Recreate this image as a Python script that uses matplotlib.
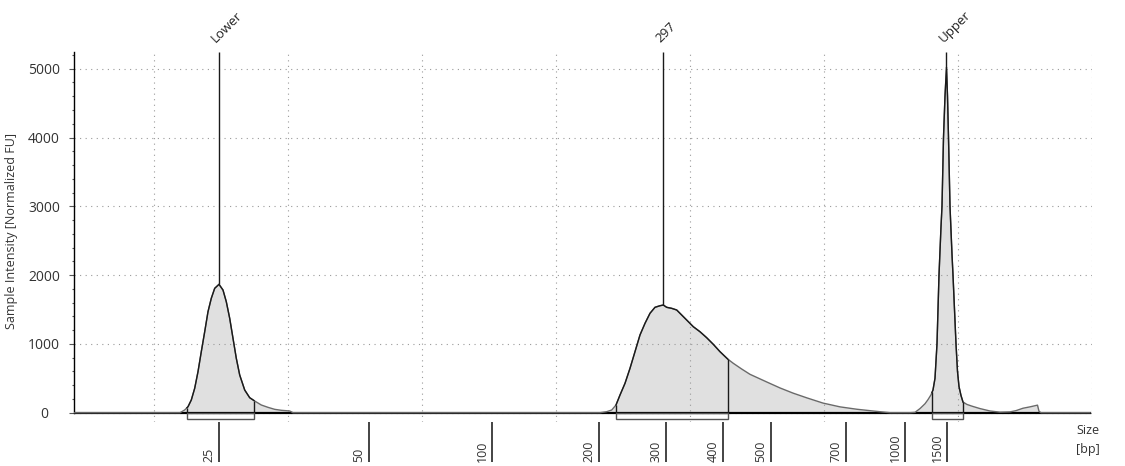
import numpy as np
import matplotlib.pyplot as plt
from matplotlib.patches import Rectangle
from matplotlib.ticker import MultipleLocator

plt.rcParams['font.family'] = ['Open Sans', 'DejaVu Sans']

# ------------------------------------------------------------
# electropherogram trace (migration position vs normalized FU)
# ------------------------------------------------------------
pos = [74, 180, 184.7, 188, 191.3, 194.7, 198, 201.3, 204.7, 208, 211.3, 214.7,
       219, 223, 226.3, 229.7, 233, 236.3, 239.7, 244.7, 249.7, 254.7, 261.3,
       268, 274.7, 281.3, 289.7, 293,
       600, 606.7, 611.7, 616, 620, 625, 630, 635, 640, 645, 650, 655, 660,
       663.3, 666.7, 671.7, 676.7, 681.7, 686.7, 693.3, 700, 706.7, 713.3, 720,
       727.7, 733.3, 741.7, 750, 767, 780, 793, 807, 823, 840, 857, 873, 883,
       890,
       910, 915, 920, 925, 928, 931, 933, 935, 937, 939, 941, 942, 943.5, 945,
       946.5, 947.5, 948.5, 950, 952, 953, 956, 957.5, 959, 961, 963, 967, 972,
       980, 990, 1000, 1010, 1016, 1023, 1030, 1036, 1037.5, 1039, 1041, 1090]
fu = [0, 0, 40, 87, 185, 355, 596, 887, 1177, 1468, 1663, 1808,
      1866, 1783, 1613, 1372, 1081, 791, 548, 330, 218, 170, 112,
      78, 49, 35, 25, 0,
      0, 15, 39, 112, 257, 427, 645, 887, 1130, 1299, 1445, 1532, 1555,
      1565, 1532, 1517, 1493, 1420, 1347, 1250, 1177, 1090, 994, 887,
      780, 718, 635, 558, 445, 360, 285, 215, 140, 85, 50, 25, 10,
      0,
      0, 5, 60, 130, 190, 260, 330, 500, 1000, 2000, 2700, 3000, 4000, 4600,
      5020, 4600, 4000, 3000, 2300, 2000, 1000, 600, 380, 250, 155, 120, 95,
      60, 25, 8, 12, 30, 65, 85, 105, 110, 20, 0, 0]

# peaks
peak_names = ['Lower', '297', 'Upper']
peak_pos = [219, 663.3, 946.5]

# integration regions
region_start = [187, 616, 932]
region_end = [254, 727.7, 963]

# size ladder
size_labels = ['25', '50', '100', '200', '300', '400', '500', '700', '1000', '1500']
size_pos = [219, 369, 492, 599, 666, 723, 771, 846, 905.5, 947]

grid_pos = [154, 288, 422, 556, 690, 824, 958, 1092]
y_ticks = [0, 1000, 2000, 3000, 4000, 5000]

pos = np.array(pos, dtype=float)
fu = np.array(fu, dtype=float)

# ------------------------------------------------------------
fig = plt.figure(figsize=(11.25, 4.66), dpi=100)
ax = fig.add_axes([74 / 1125, 44 / 466, 1018 / 1125, 370 / 466])
ymax = 5243
ax.set_xlim(74, 1092)
ax.set_ylim(-135, ymax)

for s in ['top', 'right', 'bottom']:
    ax.spines[s].set_visible(False)
ax.spines['left'].set_bounds(0, ymax)
ax.spines['left'].set_linewidth(1.0)

# grid
ax.set_xticks(grid_pos, minor=True)
ax.grid(axis='x', which='minor', linestyle=(0, (1, 4)), color='#9a9a9a', lw=0.8)
ax.grid(axis='y', which='major', linestyle=(0, (1, 4)), color='#9a9a9a', lw=0.8)
ax.grid(axis='x', which='major', visible=False)

# baseline
ax.axhline(0, xmin=0, xmax=(1090 - 74) / 1018, color='black', lw=1.6, zorder=2)

# trace
ax.fill_between(pos, 0, fu, color='#e0e0e0', lw=0, zorder=1)
ax.plot(pos, fu, color='#6a6a6a', lw=1.0, zorder=3)
for x0, x1 in zip(region_start, region_end):
    m = (pos >= x0) & (pos <= x1)
    xs = np.concatenate([[x0], pos[m], [x1]])
    ys = np.interp(xs, pos, fu)
    ax.plot(xs, ys, color='#1a1a1a', lw=1.0, zorder=4)
    ax.vlines([x0, x1], 0, ys[[0, -1]], color='#1a1a1a', lw=1.0, zorder=4)
    ax.add_patch(Rectangle((x0, -85), x1 - x0, 85, fill=False,
                           edgecolor='#555555', lw=1.0, zorder=4, clip_on=False))

# peak markers
peak_top = np.interp(peak_pos, pos, fu)
ax.vlines(peak_pos, peak_top, ymax, color='#1a1a1a', lw=1.0, zorder=5)
for name, p in zip(peak_names, peak_pos):
    ax.text(p - 3, 1 + 9 / 370, name, rotation=45, rotation_mode='anchor',
            ha='left', va='baseline', fontsize=9.5, color='#222222',
            transform=ax.get_xaxis_transform(), clip_on=False)

# y axis
ax.set_yticks(y_ticks)
ax.set_yticklabels([str(v) for v in y_ticks])
ax.yaxis.set_minor_locator(MultipleLocator(200))
ax.tick_params(axis='y', which='major', length=3.3, width=0.8, color='#555555',
               pad=18.3, labelsize=10, labelcolor='#333333')
ax.tick_params(axis='y', which='minor', length=1.8, width=0.8, color='#555555')
for lbl in ax.get_yticklabels():
    lbl.set_ha('center')

# x axis (size ladder)
ax.set_xticks(size_pos)
ax.set_xticklabels([])
ax.tick_params(axis='x', which='major', length=28.5, width=1.1, color='#111111',
               direction='out')
ax.tick_params(axis='x', which='minor', length=0)
for lab, p in zip(size_labels, size_pos):
    ax.text(p - 10, (422 - 462) / 370, lab, rotation=90, ha='center', va='bottom',
            fontsize=9, color='#333333', transform=ax.get_xaxis_transform(),
            clip_on=False)

ax.text(1088, (422 - 431) / 370, 'Size', ha='center', va='center', fontsize=9,
        color='#333333', transform=ax.get_xaxis_transform(), clip_on=False)
ax.text(1088, (422 - 450) / 370, '[bp]', ha='center', va='center', fontsize=9,
        color='#333333', transform=ax.get_xaxis_transform(), clip_on=False)

fig.text(12 / 1125, 1 - 231 / 466, 'Sample Intensity [Normalized FU]', rotation=90,
         ha='center', va='center', fontsize=9, color='#333333')

fig.savefig('out.png', dpi=100)
